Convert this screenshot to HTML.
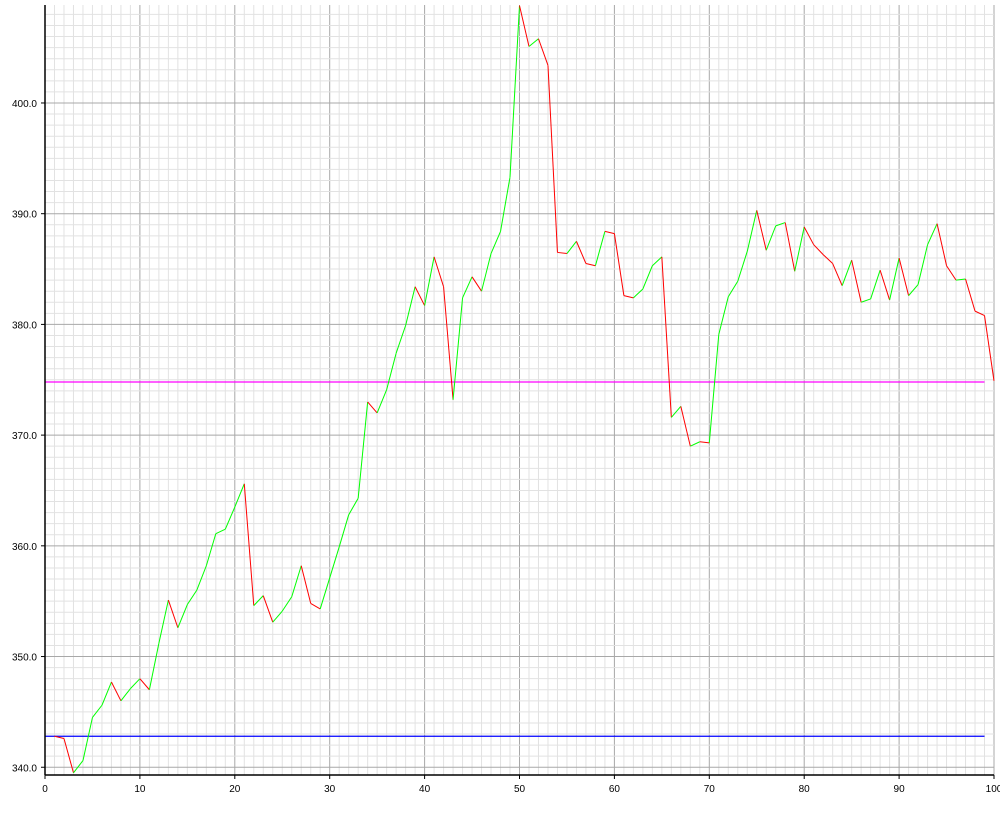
<!DOCTYPE html>
<html><head><meta charset="utf-8"><style>
html,body{margin:0;padding:0;background:#fff;}
svg{display:block;font-family:"Liberation Sans",sans-serif;}
</style></head><body>
<svg id="chart" width="1000" height="820" viewBox="0 0 1000 820" xmlns="http://www.w3.org/2000/svg">
<g id="grid"></g>
<g id="refs"></g>
<g id="series"></g>
<g id="axes"></g>
</svg>
<script>
const xValues = [];
for (let i = 1; i <= 100; i++) xValues.push(i);
const yValues = [342.8,342.6,339.5,340.6,344.5,345.6,347.7,346.0,347.1,348.0,
347.0,351.2,355.1,352.6,354.7,356.0,358.2,361.1,361.5,363.5,
365.6,354.6,355.5,353.1,354.1,355.4,358.2,354.8,354.3,357.1,
359.9,362.8,364.3,373.0,372.0,374.1,377.4,379.9,383.4,381.7,
386.1,383.4,373.2,382.4,384.3,383.0,386.4,388.4,393.3,408.8,
405.1,405.8,403.4,386.5,386.4,387.5,385.5,385.3,388.4,388.2,
382.6,382.4,383.2,385.3,386.1,371.6,372.6,369.0,369.4,369.3,
379.1,382.5,383.9,386.6,390.3,386.7,388.9,389.2,384.8,388.8,
387.2,386.3,385.5,383.5,385.8,382.0,382.3,384.9,382.2,386.0,
382.6,383.6,387.2,389.1,385.3,384.0,384.1,381.2,380.8,374.9];
const xTicks = [0,10,20,30,40,50,60,70,80,90,100];
const yTicks = [340,350,360,370,380,390,400];
const yTickLabels = ["340.0","350.0","360.0","370.0","380.0","390.0","400.0"];
const refValues = [374.8, 342.8];
const refColors = ["#ff00ff", "#0000ff"];
const refNames = ["average-line", "start-line"];

const NS = "http://www.w3.org/2000/svg";
const X0 = 45, X1 = 994, YTOP = 5, YBOT = 775;
const xMin = 0, xMax = 100, yMin = 339.3, yMax = 408.85;
const sx = v => X0 + (v - xMin) / (xMax - xMin) * (X1 - X0);
const sy = v => YBOT - (v - yMin) / (yMax - yMin) * (YBOT - YTOP);
function mk(tag, attrs, parent) {
  const e = document.createElementNS(NS, tag);
  for (const k in attrs) e.setAttribute(k, attrs[k]);
  parent.appendChild(e);
  return e;
}
const grid = document.getElementById('grid');
for (let i = 1; i <= 100; i++) {
  const x = sx(i);
  const l = mk('line', {x1: x, x2: x, y1: YTOP, y2: YBOT, stroke: i % 10 === 0 ? '#a8a8a8' : '#e2e2e2', 'stroke-width': 1}, grid);
  
  
}
for (let v = 340; v <= 408; v++) {
  const y = sy(v);
  const l = mk('line', {x1: X0, x2: X1, y1: y, y2: y, stroke: v % 10 === 0 ? '#a8a8a8' : '#e2e2e2', 'stroke-width': 1}, grid);
  
  
}
const refs = document.getElementById('refs');
refValues.forEach((v, i) => {
  const l = mk('line', {x1: X0, x2: sx(99), y1: sy(v), y2: sy(v), stroke: refColors[i], 'stroke-width': 1.2}, refs);
  
  
});
const series = document.getElementById('series');
for (let i = 1; i < yValues.length; i++) {
  const up = yValues[i] >= yValues[i - 1];
  const l = mk('line', {x1: sx(xValues[i - 1]), y1: sy(yValues[i - 1]), x2: sx(xValues[i]), y2: sy(yValues[i]), stroke: up ? '#00ff00' : '#ff0000', 'stroke-width': 1}, series);
  
  
}
const axes = document.getElementById('axes');
const ya = mk('line', {x1: X0, x2: X0, y1: YTOP, y2: YBOT, stroke: '#000', 'stroke-width': 1.5}, axes);


const xa = mk('line', {x1: X0, x2: X1, y1: YBOT, y2: YBOT, stroke: '#000', 'stroke-width': 1.5}, axes);


yTicks.forEach((v, i) => {
  const y = sy(v);
  const t = mk('line', {x1: X0 - 4, x2: X0, y1: y, y2: y, stroke: '#000'}, axes);
  
  
  const tx = mk('text', {x: X0 - 8, y: y + 4, 'text-anchor': 'end', 'font-size': 10, fill: '#000'}, axes);
  tx.textContent = yTickLabels[i];
  
  
});
xTicks.forEach(v => {
  const x = sx(v);
  const t = mk('line', {x1: x, x2: x, y1: YBOT, y2: YBOT + 4, stroke: '#000'}, axes);
  
  
  const tx = mk('text', {x: x, y: YBOT + 17, 'text-anchor': 'middle', 'font-size': 10, fill: '#000'}, axes);
  tx.textContent = String(v);
  
  
});
</script>
</body></html>
